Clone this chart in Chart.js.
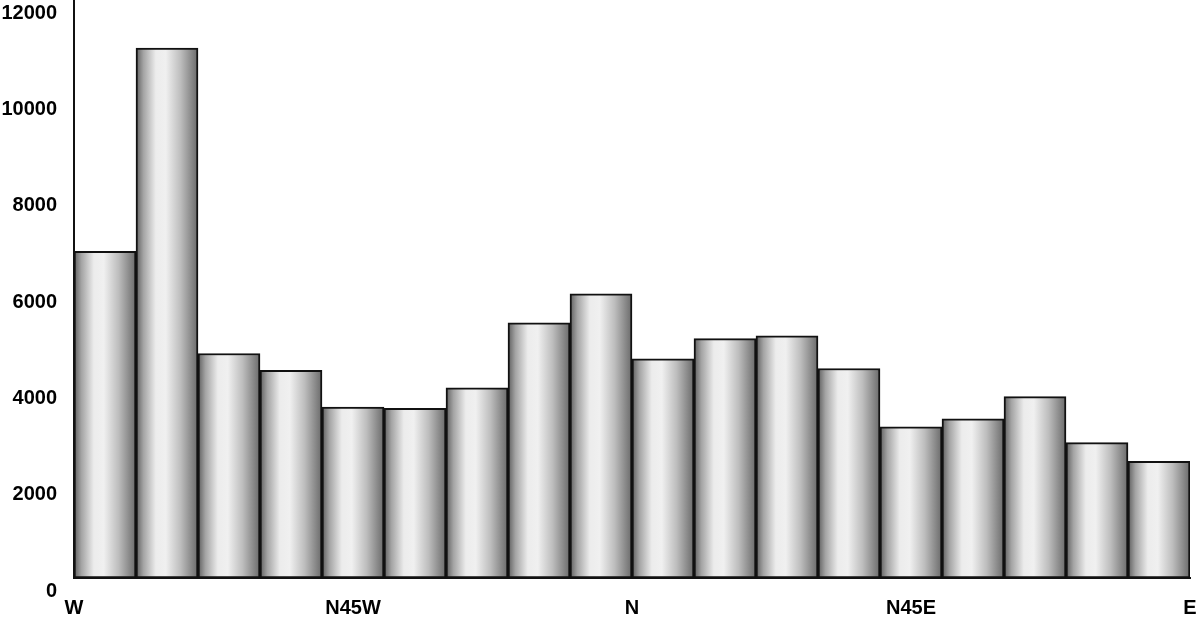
<!DOCTYPE html>
<html>
<head>
<meta charset="utf-8">
<script src="https://cdn.jsdelivr.net/npm/chart.js@4/dist/chart.umd.min.js"></script>
<style>
  html, body { margin: 0; padding: 0; background: #fff; }
  #wrap { width: 1200px; height: 628px; }
</style>
</head>
<body>
<div id="wrap"><canvas id="plot" width="1200" height="628"></canvas></div>
<script>
'use strict';

// 18 direction bins of 10 degrees, from W (-90) to E (+90)
const BINS = [
    "-90", "-80", "-70", "-60", "-50", "-40", "-30", "-20", "-10",
    "0", "10", "20", "30", "40", "50", "60", "70", "80"
];

const COUNTS = [
    6780, 11000, 4660, 4310, 3550, 3520, 3950, 5300, 5900,
    4550, 4970, 5030, 4350, 3140, 3305, 3765, 2810, 2420
];

// Direction tick labels on the angle axis
const DIR_VALUES = [-90, -45, 0, 45, 90];
const DIR_LABELS = ["W", "N45W", "N", "N45E", "E"];

const Y_TICKS = [0, 2000, 4000, 6000, 8000, 10000, 12000];

const FONT = { family: "'Liberation Sans', Arial, sans-serif", size: 20, weight: 'bold' };


function barGradient(context) {
    const chart = context.chart;
    const xs = chart.scales.x;
    if (!chart.chartArea || !xs) {
        return '#d0d0d0';
    }
    const cx = xs.getPixelForValue(context.dataIndex);
    const half = (chart.chartArea.right - chart.chartArea.left) / BINS.length / 2;
    const g = chart.ctx.createLinearGradient(cx - half, 0, cx + half, 0);
    g.addColorStop(0, '#5e5e5e');
    g.addColorStop(0.12, '#a4a4a4');
    g.addColorStop(0.32, '#ececec');
    g.addColorStop(0.48, '#f0f0f0');
    g.addColorStop(0.72, '#bdbdbd');
    g.addColorStop(1, '#6a6a6a');
    return g;
}


const data = {
    labels: BINS,
    datasets: [{
        data: COUNTS,
        backgroundColor: barGradient,
        borderColor: '#111',
        borderWidth: 2,
        borderSkipped: false,
        barPercentage: 1.0,
        categoryPercentage: 1.0,
        xAxisID: 'x',
        yAxisID: 'y'
    }]
};

const config = {
    type: 'bar',
    data: data,
    options: {
        responsive: false,
        animation: false,
        events: [],
        layout: {
            padding: { top: 0, left: 0, right: 10, bottom: 0 }
        },
        plugins: {
            legend: { display: false },
            tooltip: { enabled: false }
        },
        scales: {
            x: {
                type: 'category',
                display: false
            },
            x2: {
                type: 'linear',
                position: 'bottom',
                min: -90,
                max: 90,
                offset: false,
                grid: { display: false, drawTicks: false, offset: false },
                border: { display: true, color: '#111', width: 2 },
                afterBuildTicks: function (scale) {
                    scale.ticks = DIR_VALUES.map(v => ({ value: v }));
                },
                ticks: {
                    color: '#000',
                    font: FONT,
                    padding: 18,
                    maxRotation: 0,
                    autoSkip: false,
                    callback: function (value) {
                        const i = DIR_VALUES.indexOf(value);
                        return i >= 0 ? DIR_LABELS[i] : '';
                    }
                },
                afterFit: function (scale) {
                    scale.height = 50;
                    scale.paddingLeft = 0;
                    scale.paddingRight = 0;
                }
            },
            y: {
                min: 0,
                max: 12000,
                grid: { display: false, drawTicks: false },
                border: { display: true, color: '#111', width: 2 },
                afterBuildTicks: function (scale) {
                    scale.ticks = Y_TICKS.map(v => ({ value: v }));
                },
                ticks: {
                    color: '#000',
                    font: FONT,
                    padding: 17,
                    labelOffset: 13,
                    callback: function (value) {
                        return String(value);
                    }
                },
                afterFit: function (scale) {
                    scale.width = 74;
                    scale.paddingTop = 0;
                    scale.paddingBottom = 0;
                }
            }
        }
    }
};

var myChart = new Chart(document.getElementById('plot'), config);
</script>
</body>
</html>
